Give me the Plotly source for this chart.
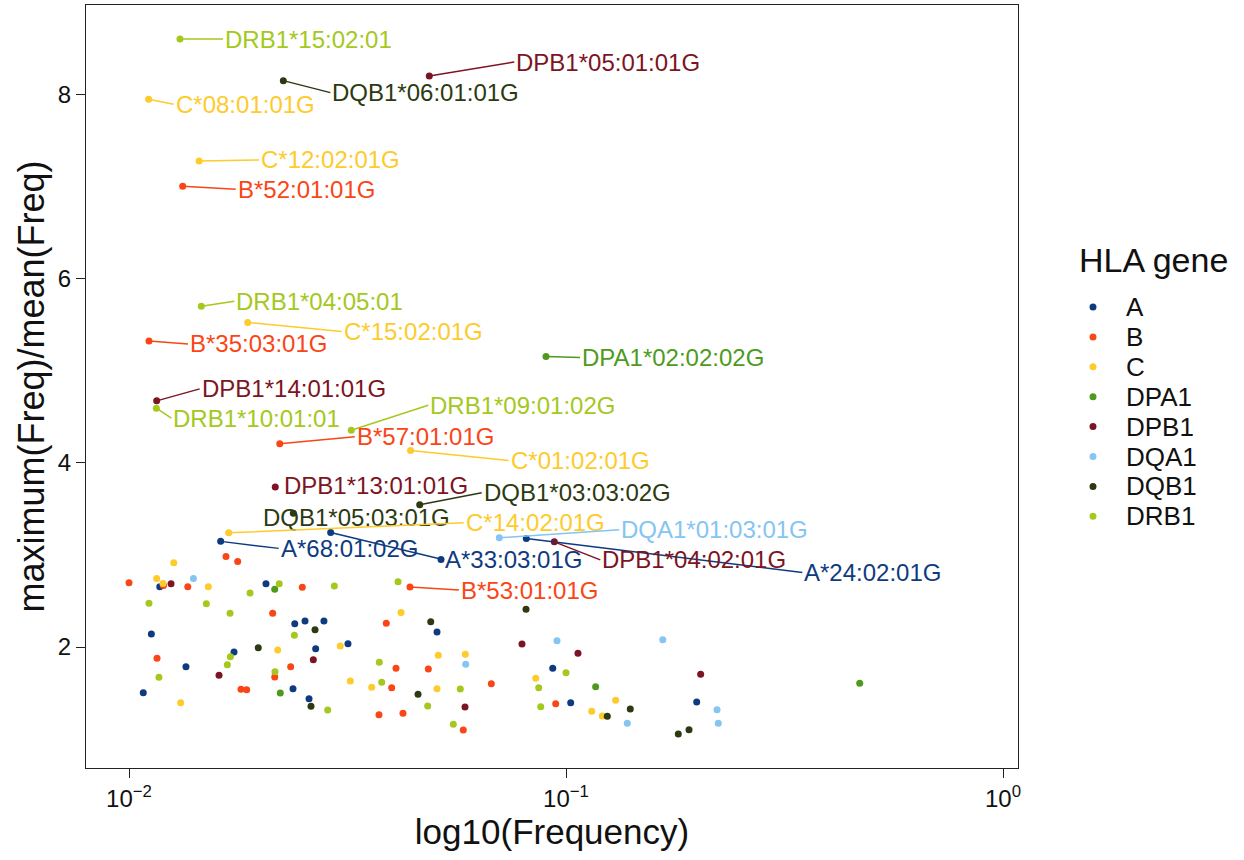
import math
import plotly.graph_objects as go

# ---- data -------------------------------------------------------------
genes = ["A", "B", "C", "DPA1", "DPB1", "DQA1", "DQB1", "DRB1"]
gene_colors = {
    "A": "#0E3B80",
    "B": "#FA4516",
    "C": "#FDCB2C",
    "DPA1": "#4E9A1D",
    "DPB1": "#7C1423",
    "DQA1": "#84C5F2",
    "DQB1": "#2C3A10",
    "DRB1": "#A4C81D",
}

# unlabelled alleles: allele frequency and maximum(Freq)/mean(Freq)
freq_A = [0.01176, 0.02058, 0.01125, 0.02395, 0.02528, 0.02793, 0.01739, 0.02674, 0.0317,
          0.0135, 0.02373, 0.02582, 0.01078, 0.05068, 0.09325, 0.1025, 0.1991, 0.05176]
ratio_A = [2.654, 2.687, 2.141, 2.253, 2.282, 2.282, 1.946, 1.982, 2.036,
           1.786, 1.548, 1.439, 1.504, 2.163, 1.769, 1.396, 1.403, 2.949]

freq_B = [0.01, 0.01199, 0.01363, 0.02492, 0.01773, 0.01667, 0.02132, 0.03879, 0.01159,
          0.01804, 0.01859, 0.02155, 0.02344, 0.03733, 0.04083, 0.04841, 0.03991, 0.06747,
          0.04236, 0.0582, 0.09472]
ratio_B = [2.698, 2.667, 2.654, 2.648, 2.928, 2.982, 2.366, 2.257, 1.877,
           1.541, 1.537, 1.675, 1.786, 1.265, 1.769, 1.761, 1.558, 1.602,
           1.281, 1.099, 1.385]

freq_C = [0.01266, 0.01157, 0.01196, 0.01519, 0.02189, 0.03044, 0.03209, 0.03592, 0.01313,
          0.04192, 0.05103, 0.05883, 0.05068, 0.08525, 0.1299, 0.1145, 0.1211]
ratio_C = [2.915, 2.745, 2.691, 2.654, 1.967, 2.011, 1.631, 1.563, 1.396,
           2.376, 1.910, 1.921, 1.548, 1.660, 1.422, 1.302, 1.251]

freq_DPA1 = [0.02155, 0.02219, 0.1169, 0.470]
ratio_DPA1 = [2.626, 1.501, 1.569, 1.606]

freq_DPB1 = [0.01248, 0.02641, 0.01607, 0.0793, 0.1065, 0.05873, 0.2033]
ratio_DPB1 = [2.687, 1.862, 1.693, 2.033, 1.932, 1.349, 1.704]

freq_DQA1 = [0.01404, 0.09537, 0.1665, 0.05895, 0.1381, 0.2216, 0.2231]
ratio_DQA1 = [2.745, 2.068, 2.079, 1.812, 1.172, 1.320, 1.172]

freq_DQB1 = [0.02665, 0.01976, 0.02609, 0.04903, 0.081, 0.04585, 0.1403, 0.1243, 0.1807, 0.1912]
ratio_DQB1 = [2.188, 1.992, 1.357, 2.274, 2.409, 1.487, 1.327, 1.248, 1.056, 1.103]

freq_DRB1 = [0.02207, 0.0295, 0.01111, 0.01503, 0.01892, 0.01703, 0.0239, 0.01706, 0.01679,
             0.02158, 0.02849, 0.03739, 0.03787, 0.01171, 0.04127, 0.04825, 0.05729, 0.05522,
             0.1, 0.0866, 0.08753]
ratio_DRB1 = [2.687, 2.662, 2.474, 2.470, 2.586, 2.366, 2.127, 1.895, 1.808,
              1.732, 1.316, 1.834, 1.617, 1.671, 2.708, 1.360, 1.544, 1.161,
              1.721, 1.558, 1.352]

# labelled alleles
allele_names = ["DRB1*15:02:01", "DPB1*05:01:01G", "DQB1*06:01:01G", "C*08:01:01G",
                "C*12:02:01G", "B*52:01:01G", "DRB1*04:05:01", "C*15:02:01G",
                "B*35:03:01G", "DPA1*02:02:02G", "DPB1*14:01:01G", "DRB1*10:01:01",
                "DRB1*09:01:02G", "B*57:01:01G", "C*01:02:01G", "DPB1*13:01:01G",
                "DQB1*03:03:02G", "DQB1*05:03:01G", "C*14:02:01G", "DQA1*01:03:01G",
                "A*24:02:01G", "A*33:03:01G", "A*68:01:02G", "DPB1*04:02:01G",
                "B*53:01:01G"]
allele_freq = [0.01308, 0.04866, 0.02255, 0.01109, 0.01447, 0.01327, 0.01464, 0.01869,
               0.01111, 0.0900, 0.01157, 0.01155, 0.03225, 0.02213, 0.04408, 0.02161,
               0.04626, 0.02377, 0.01691, 0.07037, 0.08113, 0.02894, 0.01621, 0.09402,
               0.04395]
allele_ratio = [8.600, 8.198, 8.148, 7.946, 7.276, 7.002, 5.700, 5.523, 5.323, 5.154,
                4.672, 4.593, 4.354, 4.206, 4.132, 3.736, 3.544, 3.451, 3.240, 3.186,
                3.179, 3.244, 3.147, 3.142, 2.651]

gene_freq = {"A": freq_A, "B": freq_B, "C": freq_C, "DPA1": freq_DPA1, "DPB1": freq_DPB1,
             "DQA1": freq_DQA1, "DQB1": freq_DQB1, "DRB1": freq_DRB1}
gene_ratio = {"A": ratio_A, "B": ratio_B, "C": ratio_C, "DPA1": ratio_DPA1, "DPB1": ratio_DPB1,
              "DQA1": ratio_DQA1, "DQB1": ratio_DQB1, "DRB1": ratio_DRB1}

# ---- label placement (pixel offsets of the label from its point) ----------
# (ax, ay): label tail with a connecting segment
label_offset = {
    "DRB1*15:02:01": (43, 0), "DPB1*05:01:01G": (85, -14), "DQB1*06:01:01G": (47, 12),
    "C*08:01:01G": (25, 5), "C*12:02:01G": (60, -1), "B*52:01:01G": (53, 3),
    "DRB1*04:05:01": (33, -5), "C*15:02:01G": (94, 9), "B*35:03:01G": (39, 3),
    "DPA1*02:02:02G": (34, 1), "DPB1*14:01:01G": (43, -12), "DRB1*10:01:01": (15, 10),
    "DRB1*09:01:02G": (77, -25), "B*57:01:01G": (75, -7), "C*01:02:01G": (98, 10),
    "DQB1*03:03:02G": (62, -12), "C*14:02:01G": (235, -10), "DQA1*01:03:01G": (120, -8),
    "A*24:02:01G": (276, 34), "A*33:03:01G": (112, 27), "A*68:01:02G": (58, 7),
    "DPB1*04:02:01G": (46, 18), "B*53:01:01G": (49, 3),
}
# labels sitting right on their point (no segment): (xshift, yshift)
label_shift = {"DPB1*13:01:01G": (7, 2), "DQB1*05:03:01G": (-32, -4)}

FONT = "Liberation Sans, Arial, Helvetica, sans-serif"
W, H = 1244, 860
M_L, M_R, M_T, M_B = 86, 226, 5, 92

fig = go.Figure()

for g in genes:
    xs = list(gene_freq[g])
    ys = list(gene_ratio[g])
    for name, f, r in zip(allele_names, allele_freq, allele_ratio):
        if name.split("*")[0] == g:
            xs.append(f)
            ys.append(r)
    fig.add_trace(go.Scatter(
        x=xs, y=ys, mode="markers", name=g, showlegend=False,
        marker=dict(size=7, color=gene_colors[g], line=dict(width=0)),
    ))

annotations = []
for name, f, r in zip(allele_names, allele_freq, allele_ratio):
    col = gene_colors[name.split("*")[0]]
    # annotations on a log axis take log10 positions
    common = dict(x=math.log10(f), y=r, xref="x", yref="y", text=name,
                  font=dict(family=FONT, size=24, color=col),
                  xanchor="left", yanchor="middle")
    if name in label_offset:
        ax, ay = label_offset[name]
        annotations.append(dict(common, showarrow=True, ax=ax, ay=ay, arrowhead=0,
                                arrowwidth=1.5, arrowcolor=col, standoff=0))
    else:
        xs_, ys_ = label_shift[name]
        annotations.append(dict(common, showarrow=False, xshift=xs_, yshift=ys_))


# ---- legend drawn in pixel positions to the right of the panel -------------
plot_w = W - M_L - M_R
plot_h = H - M_T - M_B


def paper_x(px):
    return (px - M_L) / plot_w


def paper_y(py):
    return (H - M_B - py) / plot_h


annotations.append(dict(x=paper_x(1077), y=paper_y(260), xref="paper", yref="paper",
                        text="HLA gene", showarrow=False, xanchor="left", yanchor="middle",
                        font=dict(family=FONT, size=34, color="#111111")))
shapes = []
for i, g in enumerate(genes):
    py = 307 + i * 29.9
    shapes.append(dict(type="circle", xref="paper", yref="paper",
                       xsizemode="pixel", ysizemode="pixel",
                       xanchor=paper_x(1093), yanchor=paper_y(py),
                       x0=-3.5, x1=3.5, y0=-3.5, y1=3.5,
                       fillcolor=gene_colors[g], line=dict(width=0)))
    annotations.append(dict(x=paper_x(1124), y=paper_y(py), xref="paper", yref="paper",
                            text=g, showarrow=False, xanchor="left", yanchor="middle",
                            font=dict(family=FONT, size=26, color="#111111")))

fig.update_layout(
    width=W, height=H,
    margin=dict(l=M_L, r=M_R, t=M_T, b=M_B),
    paper_bgcolor="white", plot_bgcolor="white",
    font=dict(family=FONT, color="#111111"),
    annotations=annotations, shapes=shapes,
    showlegend=False,
)
fig.update_xaxes(
    type="log", range=[-2.0984, 0.0343],
    tickvals=[0.01, 0.1, 1],
    ticktext=["10<sup>−2</sup>", "10<sup>−1</sup>", "10<sup>0</sup>"],
    tickfont=dict(family=FONT, size=24, color="#111111"),
    ticks="outside", ticklen=9, tickwidth=1.2, tickcolor="#222222",
    showline=True, linecolor="#222222", linewidth=1.2, mirror=True,
    showgrid=False, zeroline=False,
    title=dict(text="log10(Frequency)", font=dict(family=FONT, size=35, color="#111111"),
               standoff=6),
)
fig.update_yaxes(
    range=[0.687, 8.969],
    tickvals=[2, 4, 6, 8],
    tickfont=dict(family=FONT, size=24, color="#111111"),
    ticks="outside", ticklen=9, tickwidth=1.2, tickcolor="#222222",
    showline=True, linecolor="#222222", linewidth=1.2, mirror=True,
    showgrid=False, zeroline=False,
    title=dict(text="maximum(Freq)/mean(Freq)", font=dict(family=FONT, size=36, color="#111111"),
               standoff=2),
)

fig.write_html("out.html")
